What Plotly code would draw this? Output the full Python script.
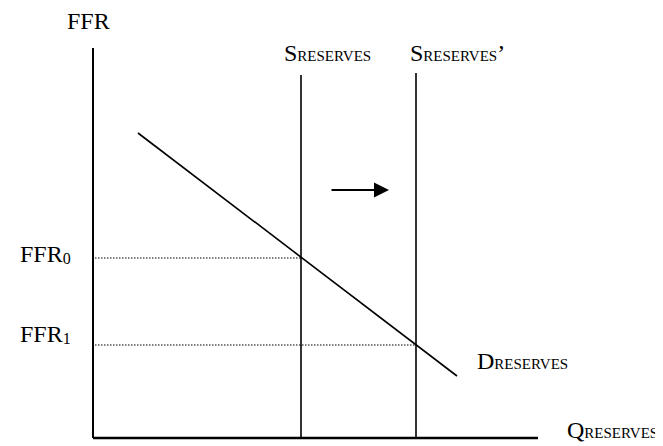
import plotly.graph_objects as go

# --- diagram data (abstract units: quantity of reserves, federal funds rate) ---
axis_q_max = 445
axis_ffr_max = 390
supply_q = [208, 323]            # S_RESERVES, S_RESERVES'
supply_top = [363, 365]
demand_q = [45, 364]             # D_RESERVES endpoints
demand_ffr = [305, 62]
ffr_levels = [180, 93]           # FFR0, FFR1
ffr_subs = ["0", "1"]
shift_arrow_q = [237, 296]
shift_arrow_ffr = 248

FONT = "Liberation Serif, Times New Roman, serif"
SUB = '<span style="font-size:15px">RESERVES</span>'

fig = go.Figure()

# axes
fig.add_trace(go.Scatter(x=[0, 0], y=[axis_ffr_max, 0], mode="lines",
                         line=dict(color="black", width=2), hoverinfo="skip"))
fig.add_trace(go.Scatter(x=[0, axis_q_max], y=[0, 0], mode="lines",
                         line=dict(color="black", width=2.5), hoverinfo="skip"))

# dotted FFR levels (to the matching supply line)
for lvl, q in zip(ffr_levels, supply_q):
    fig.add_trace(go.Scatter(x=[2, q], y=[lvl, lvl], mode="lines",
                             line=dict(color="black", width=1, dash="1.5px,1.5px"),
                             hoverinfo="skip"))

# supply lines
for q, top in zip(supply_q, supply_top):
    fig.add_trace(go.Scatter(x=[q, q], y=[0, top], mode="lines",
                             line=dict(color="black", width=1.6), hoverinfo="skip"))

# demand line
fig.add_trace(go.Scatter(x=demand_q, y=demand_ffr, mode="lines",
                         line=dict(color="black", width=1.6), hoverinfo="skip"))

# shift arrow
fig.add_annotation(x=shift_arrow_q[1], y=shift_arrow_ffr,
                   ax=shift_arrow_q[0], ay=shift_arrow_ffr,
                   xref="x", yref="y", axref="x", ayref="y",
                   text="", showarrow=True, arrowhead=2, arrowsize=1.5,
                   arrowwidth=2, arrowcolor="black")

def ffr_label(s):
    return 'FFR<span style="font-size:16px;baseline-shift:-2px">' + s + '</span>'

labels = [
    dict(text="FFR", x=-28, y=417, xanchor="left"),
    dict(text="S" + SUB, x=189, y=385, xanchor="left"),
    dict(text="S" + SUB + "\u2019", x=315, y=385, xanchor="left"),
    dict(text=ffr_label(ffr_subs[0]), x=-20, y=184, xanchor="right"),
    dict(text=ffr_label(ffr_subs[1]), x=-20, y=104, xanchor="right"),
    dict(text="D" + SUB, x=382, y=77, xanchor="left"),
    dict(text="Q" + SUB, x=472, y=8, xanchor="left"),
]
for lb in labels:
    fig.add_annotation(x=lb["x"], y=lb["y"], xref="x", yref="y",
                       text=lb["text"], showarrow=False,
                       xanchor=lb["xanchor"], yanchor="middle",
                       font=dict(family=FONT, size=24, color="black"))

# page body has an 8px margin: ranges are offset so the drawing lands in place
fig.update_layout(
    width=663, height=446, autosize=False,
    margin=dict(l=0, r=0, t=0, b=0),
    paper_bgcolor="white", plot_bgcolor="white",
    showlegend=False,
    xaxis=dict(range=[-85, 578], visible=False, fixedrange=True),
    yaxis=dict(range=[-16, 430], visible=False, fixedrange=True),
)

fig.write_html("out.html")
